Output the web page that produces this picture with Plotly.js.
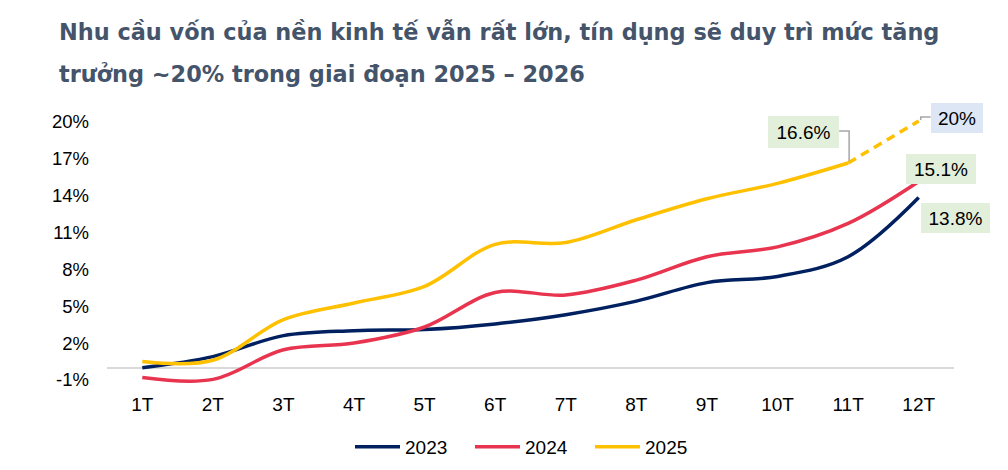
<!DOCTYPE html>
<html>
<head>
<meta charset="utf-8">
<script src="https://cdn.plot.ly/plotly-3.0.1.min.js"></script>
<style>
  html, body { margin: 0; padding: 0; background: #ffffff; }
  #chart { width: 1008px; height: 470px; }
</style>
</head>
<body>
<div id="chart"></div>
<script>
// Monthly cumulative credit growth (%), year to date
const months = ['1T', '2T', '3T', '4T', '5T', '6T', '7T', '8T', '9T', '10T', '11T', '12T'];
const growth2023 = [0.0, 0.9, 2.6, 3.0, 3.1, 3.55, 4.3, 5.4, 6.9, 7.4, 9.0, 13.8];
const growth2024 = [-0.8, -0.95, 1.45, 2.0, 3.3, 6.1, 5.9, 7.1, 9.0, 9.8, 11.7, 15.1];
const growth2025 = [0.5, 0.6, 3.9, 5.25, 6.6, 10.0, 10.15, 12.0, 13.7, 14.95, 16.6];
const target2025 = 20;
const yTicks = [-1, 2, 5, 8, 11, 14, 17, 20];

const FONT = '"Liberation Sans", Arial, sans-serif';
const TITLE_FONT = '"DejaVu Sans", "Liberation Sans", Arial, sans-serif';
const NAVY = '#002060', RED = '#e8344e', GOLD = '#ffc000';

// plot area geometry in page pixels
const W = 1008, H = 470;
const M = { l: 107, r: 54, t: 100, b: 80, autoexpand: false };
const PW = W - M.l - M.r, PH = H - M.t - M.b;
const px = x => (x - M.l) / PW;
const py = y => (H - M.b - y) / PH;

const lineStyle = (color) => ({ color: color, width: 3.5, shape: 'spline', smoothing: 1 });

const traces = [
  { x: months, y: growth2023, name: '2023', mode: 'lines', line: lineStyle(NAVY), hoverinfo: 'skip' },
  { x: months, y: growth2024, name: '2024', mode: 'lines', line: lineStyle(RED), hoverinfo: 'skip' },
  { x: months.slice(0, growth2025.length), y: growth2025, name: '2025', mode: 'lines', line: lineStyle(GOLD), hoverinfo: 'skip' },
  { x: [months[growth2025.length - 1], months[growth2025.length]],
    y: [growth2025[growth2025.length - 1], target2025],
    name: '2025 (mục tiêu)', mode: 'lines', showlegend: false,
    line: { color: GOLD, width: 3.5, dash: '9px,6px' }, hoverinfo: 'skip' }
];

const GREEN_BG = '#e2efda', BLUE_BG = '#dce6f4';
const labelBox = (text, cx, cy, w, h, bg) => ({
  text: text, xref: 'paper', yref: 'paper', x: px(cx), y: py(cy),
  xanchor: 'center', yanchor: 'middle', showarrow: false,
  width: w, height: h, bgcolor: bg, borderpad: 0, borderwidth: 0,
  font: { family: FONT, size: 19, color: '#000000' }, align: 'center', valign: 'middle'
});

const last2025 = growth2025.length - 1;
const titleFont = { family: TITLE_FONT, size: 22.4, color: '#44546a' };
const annotations = [
  { text: '<b>Nhu cầu vốn của nền kinh tế vẫn rất lớn, tín dụng sẽ duy trì mức tăng</b>',
    xref: 'paper', yref: 'paper', x: px(57), y: py(32), xanchor: 'left', yanchor: 'middle',
    showarrow: false, font: titleFont },
  { text: '<b>trưởng ~20% trong giai đoạn 2025 – 2026</b>',
    xref: 'paper', yref: 'paper', x: px(57), y: py(74), xanchor: 'left', yanchor: 'middle',
    showarrow: false, font: titleFont },
  labelBox(growth2025[last2025].toFixed(1) + '%', 803.5, 132, 71, 32, GREEN_BG),
  labelBox(target2025 + '%', 957, 118, 52, 30, BLUE_BG),
  labelBox(growth2024[11].toFixed(1) + '%', 941, 169, 70, 30, GREEN_BG),
  labelBox(growth2023[11].toFixed(1) + '%', 955.5, 218, 69, 30, GREEN_BG)
];

// elbow leader lines from the value boxes down to their points
const shapes = [
  { type: 'path', xref: 'x', yref: 'y', xsizemode: 'pixel', ysizemode: 'pixel',
    xanchor: last2025, yanchor: growth2025[last2025],
    path: 'M1,2 L1,32 L-9,32', line: { color: '#a6a6a6', width: 1.5 } },
  { type: 'path', xref: 'x', yref: 'y', xsizemode: 'pixel', ysizemode: 'pixel',
    xanchor: months.length - 1, yanchor: target2025,
    path: 'M2,1 L2,4 L12,4', line: { color: '#a6a6a6', width: 1.5 } }
];

const layout = {
  width: W, height: H,
  margin: M,
  paper_bgcolor: '#ffffff', plot_bgcolor: '#ffffff',
  font: { family: FONT, color: '#000000' },
  showlegend: true,
  legend: {
    orientation: 'h', x: px(530), xanchor: 'center', y: py(447), yanchor: 'middle',
    font: { family: FONT, size: 19, color: '#000000' },
    entrywidth: 60, itemwidth: 45, traceorder: 'normal', bgcolor: 'rgba(0,0,0,0)'
  },
  xaxis: {
    type: 'category', categoryarray: months, range: [-0.5, 11.5],
    showgrid: false, zeroline: false, showline: false, ticks: '',
    ticklabelstandoff: 1,
    tickfont: { family: FONT, size: 19, color: '#000000' }, fixedrange: true
  },
  yaxis: {
    range: [-1.81, 21.71], tickvals: yTicks, ticktext: yTicks.map(v => v + '%'),
    showgrid: false, showline: false, ticks: '',
    zeroline: true, zerolinecolor: '#d9d9d9', zerolinewidth: 2,
    ticklabelstandoff: 17,
    tickfont: { family: FONT, size: 18.5, color: '#000000' }, fixedrange: true
  },
  annotations: annotations,
  shapes: shapes
};

Plotly.newPlot('chart', traces, layout, { displayModeBar: false, staticPlot: true });
</script>
</body>
</html>
